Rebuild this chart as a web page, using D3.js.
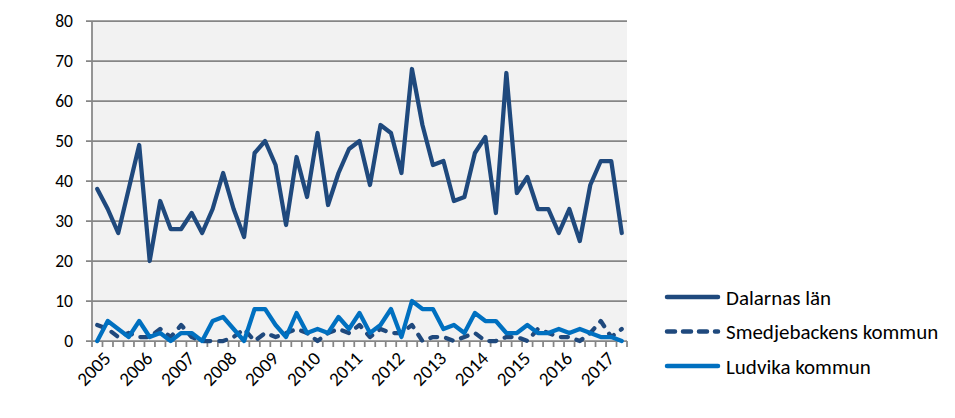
<!DOCTYPE html>
<html><head><meta charset="utf-8">
<script src="https://cdn.jsdelivr.net/npm/d3@7"></script>
<style>
body{margin:0;background:#fff;}
svg{display:block;font-family:Calibri,Carlito,Lato,"Open Sans",sans-serif;}
</style></head>
<body><svg id="c" width="955" height="418"></svg>
<script>
const years = ["2005","2006","2007","2008","2009","2010","2011","2012","2013","2014","2015","2016","2017"];
const quarters = ["Q1","Q2","Q3","Q4"];
const dalarnas = [38,33,27,38,49,20,35,28,28,32,27,33,42,33,26,47,50,44,29,46,36,52,34,42,48,50,39,54,52,42,68,54,44,45,35,36,47,51,32,67,37,41,33,33,27,33,25,39,45,45,27];
const smedjebacken = [4,3,1,2,1,1,3,1,4,1,0,0,0,1,3,0,2,1,2,3,2,0,2,3,2,4,1,3,2,2,4,0,1,1,0,1,2,0,0,1,1,0,3,2,1,1,0,2,5,1,3];
const ludvika = [0,5,3,1,5,1,2,0,2,2,0,5,6,3,0,8,8,4,1,7,2,3,2,6,3,7,2,4,8,1,10,8,8,3,4,2,7,5,5,2,2,4,2,2,3,2,3,2,1,1,0];
const yTicks = [0,10,20,30,40,50,60,70,80];
const seriesNames = ["Dalarnas län","Smedjebackens kommun","Ludvika kommun"];

const categories = [];
years.forEach(y => quarters.forEach(q => categories.push(y + " " + q)));
const cats = categories.slice(0, dalarnas.length);

const series = [
  {name: seriesNames[0], values: dalarnas, color: "#1F497D", dash: null},
  {name: seriesNames[1], values: smedjebacken, color: "#1F497D", dash: "7,9"},
  {name: seriesNames[2], values: ludvika, color: "#0070C0", dash: null}
];

const svg = d3.select("#c");
const L = 92, R = 627, T = 21, B = 341;
const x = d3.scaleBand().domain(cats).range([L, R]);
const y = d3.scaleLinear().domain([0, 80]).range([B, T]);

svg.append("rect").attr("x", L).attr("y", T).attr("width", R - L).attr("height", B - T).attr("fill", "#F2F2F2");

const gridCol = "#868686";
svg.append("g").selectAll("line").data(yTicks).join("line")
  .attr("x1", L - 6).attr("x2", R).attr("y1", d => y(d)).attr("y2", d => y(d))
  .attr("stroke", gridCol).attr("stroke-width", 1.75);
svg.append("line").attr("x1", L).attr("x2", L).attr("y1", T).attr("y2", B + 1)
  .attr("stroke", gridCol).attr("stroke-width", 1.75);
svg.append("g").selectAll("text").data(yTicks).join("text")
  .attr("x", 73).attr("y", d => y(d)).attr("dy", "0.36em").attr("text-anchor", "end")
  .attr("font-size", 17.5).attr("fill", "#000").text(d => d);
const bounds = cats.map(c => x(c)).concat([R]);
svg.append("g").selectAll("line").data(bounds).join("line")
  .attr("x1", d => d).attr("x2", d => d).attr("y1", B).attr("y2", B + 6)
  .attr("stroke", gridCol).attr("stroke-width", 1.75);
const labelCats = cats.filter((c, i) => i % 4 === 0);
svg.append("g").selectAll("text").data(labelCats).join("text")
  .attr("transform", c => `translate(${x(c) + x.bandwidth() / 2 + 5},${B + 9}) rotate(-45)`)
  .attr("text-anchor", "end").attr("dy", "0.72em")
  .attr("font-size", 19).attr("fill", "#000").text(c => c.split(" ")[0]);

const line = d3.line().x((d, i) => x(cats[i]) + x.bandwidth() / 2).y(d => y(d));
series.forEach(s => {
  svg.append("path").datum(s.values).attr("d", line)
    .attr("fill", "none").attr("stroke", s.color).attr("stroke-width", 4.25)
    .attr("stroke-linejoin", "round").attr("stroke-linecap", "round")
    .attr("stroke-dasharray", s.dash);
});

const lg = svg.append("g");
series.forEach((s, i) => {
  const ly = 297 + i * 34.5;
  lg.append("line").attr("x1", 667).attr("x2", 718).attr("y1", ly).attr("y2", ly)
    .attr("stroke", s.color).attr("stroke-width", 4.5).attr("stroke-linecap", "round")
    .attr("stroke-dasharray", s.dash ? "8,8" : null);
  lg.append("text").attr("x", 726).attr("y", ly).attr("dy", "0.36em")
    .attr("font-size", 21).attr("fill", "#000").text(s.name);
});
</script></body></html>
